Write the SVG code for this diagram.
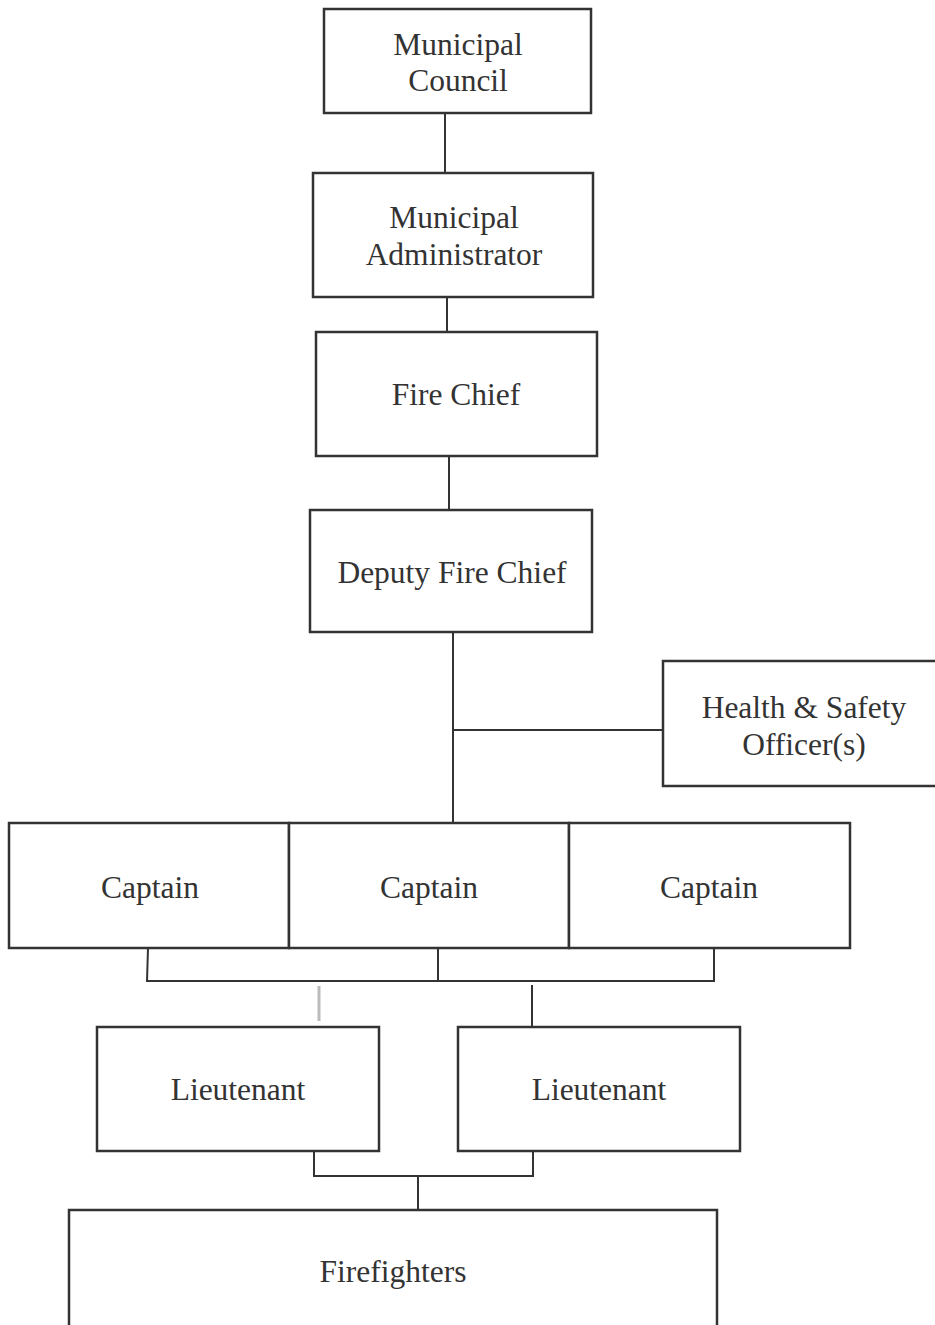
<svg xmlns="http://www.w3.org/2000/svg" width="935" height="1325" viewBox="0 0 935 1325">
<style>
.box{fill:#fff;stroke:#333;stroke-width:2.5}
.ln{stroke:#333;stroke-width:2;fill:none}
.lg{stroke:#bbb;stroke-width:3;fill:none}
.t{font-family:'Liberation Serif','Times New Roman',serif;font-size:31.5px;fill:#333;text-anchor:middle}
</style>
<rect width="935" height="1325" fill="#fff"/>
<g id="connectors">
<line class="ln" x1="445" y1="113" x2="445" y2="173"/>
<line class="ln" x1="447" y1="297" x2="447" y2="332"/>
<line class="ln" x1="449" y1="456" x2="449" y2="510"/>
<line class="ln" x1="453" y1="632" x2="453" y2="823"/>
<line class="ln" x1="453" y1="730" x2="663" y2="730"/>
<polyline class="ln" points="148,948 147,981 714,981 714,948"/>
<line class="ln" x1="438" y1="948" x2="438" y2="981"/>
<line class="lg" x1="319" y1="986" x2="319" y2="1021"/>
<line class="ln" x1="532" y1="985" x2="532" y2="1027"/>
<polyline class="ln" points="314,1151 314,1176 533,1176 533,1151"/>
<line class="ln" x1="418" y1="1176" x2="418" y2="1210"/>
</g>
<g id="council"><rect class="box" x="324" y="9" width="267" height="104"/><text class="t" x="458" y="55">Municipal</text><text class="t" x="458" y="91">Council</text></g>
<g id="administrator"><rect class="box" x="313" y="173" width="280" height="124"/><text class="t" x="454" y="228">Municipal</text><text class="t" x="454" y="265">Administrator</text></g>
<g id="firechief"><rect class="box" x="316" y="332" width="281" height="124"/><text class="t" x="456" y="405">Fire Chief</text></g>
<g id="deputy"><rect class="box" x="310" y="510" width="282" height="122"/><text class="t" x="452" y="583">Deputy Fire Chief</text></g>
<g id="healthsafety"><rect class="box" x="663" y="661" width="275" height="125"/><text class="t" x="804" y="718">Health &amp; Safety</text><text class="t" x="804" y="755">Officer(s)</text></g>
<g id="captain1"><rect class="box" x="9" y="823" width="280" height="125"/><text class="t" x="150" y="898">Captain</text></g>
<g id="captain2"><rect class="box" x="289" y="823" width="280" height="125"/><text class="t" x="429" y="898">Captain</text></g>
<g id="captain3"><rect class="box" x="569" y="823" width="281" height="125"/><text class="t" x="709" y="898">Captain</text></g>
<g id="lieutenant1"><rect class="box" x="97" y="1027" width="282" height="124"/><text class="t" x="238" y="1100">Lieutenant</text></g>
<g id="lieutenant2"><rect class="box" x="458" y="1027" width="282" height="124"/><text class="t" x="599" y="1100">Lieutenant</text></g>
<g id="firefighters"><rect class="box" x="69" y="1210" width="648" height="130"/><text class="t" x="393" y="1282">Firefighters</text></g>
</svg>
